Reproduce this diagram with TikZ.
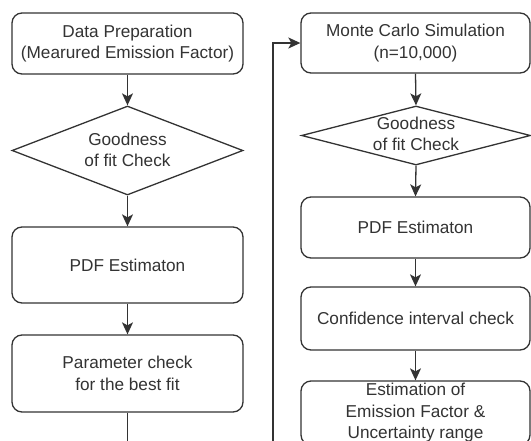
\documentclass[tikz,border=0pt]{standalone}
\usepackage{fontspec}
\setmainfont{Liberation Sans}
\usetikzlibrary{arrows.meta,shapes.geometric}
\definecolor{ink}{HTML}{333333}
\tikzset{
  box/.style={draw=ink, line width=1.3pt, rounded corners=10pt, fill=white, inner sep=0pt, align=center, text=ink, font=\fontsize{17.2}{21.5}\selectfont},
  dia/.style={draw=ink, line width=1.3pt, diamond, inner sep=0pt, fill=white},
  txt/.style={align=center, text=ink, font=\fontsize{17.2}{21.5}\selectfont, inner sep=0pt},
  conn/.style={draw=ink, line width=1.3pt, -{Stealth[length=12pt, width=11pt, inset=3pt]}},
}
\begin{document}
\begin{tikzpicture}[x=1pt, y=-1pt]
\useasboundingbox (0,0) rectangle (531,440);
\clip (0,0) rectangle (531,440);
% left column
\node[box, minimum width=231pt, minimum height=61pt] (a1) at (127.5,43.5) {Data Preparation\\(Mearured Emission Factor)};
\node[dia, minimum width=231pt, minimum height=89pt] (a2) at (127.5,150.5) {};
\node[txt] (a2t) at (127.5,150) {Goodness\\of fit Check};
\node[box, minimum width=231pt, minimum height=76pt] (a3) at (127.5,265) {PDF Estimaton};
\node[box, minimum width=231pt, minimum height=77pt] (a4) at (127.5,373.5) {Parameter check\\for the best fit};
% right column
\node[box, minimum width=229pt, minimum height=60pt] (b1) at (415.5,43) {Monte Carlo Simulation\\(n=10,000)};
\node[dia, minimum width=229pt, minimum height=59pt] (b2) at (416,135.5) {};
\node[txt] (b2t) at (416,134) {Goodness\\of fit Check};
\node[box, minimum width=229pt, minimum height=61pt] (b3) at (415.5,227.5) {PDF Estimaton};
\node[box, minimum width=229pt, minimum height=63pt] (b4) at (415.5,318.5) {Confidence interval check};
\node[box, minimum width=229pt, minimum height=64pt] (b5) at (415.5,413) {Estimation of\\Emission Factor \&\\Uncertainty range};
% connectors
\draw[conn] (a1) -- (a2);
\draw[conn] (a2) -- (a3);
\draw[conn] (a3) -- (a4);
\draw[conn] (b1.south) -- (b2.north);
\draw[conn] (b2.south) -- (b3.north);
\draw[conn] (b3) -- (b4);
\draw[conn] (b4) -- (b5);
\coordinate (c1) at (127.5,470);
\coordinate (c2) at (273,470);
\coordinate (c3) at (273,43);
\draw[conn] (a4.south) -- (c1) -- (c2) -- (c3) -- (b1.west);
\end{tikzpicture}
\end{document}
